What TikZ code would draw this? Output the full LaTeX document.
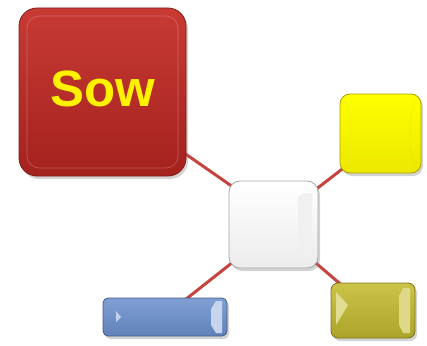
\documentclass[tikz,border=0pt]{standalone}
\usepackage{fontspec}
\setmainfont{Liberation Sans}
\usetikzlibrary{shadows,calc}
\pgfdeclarelayer{back}
\pgfsetlayers{back,main}
\definecolor{linkred}{RGB}{196,68,64}
\definecolor{sowtop}{RGB}{200,58,52}
\definecolor{sowbot}{RGB}{164,34,30}
\definecolor{yelbot}{RGB}{236,232,0}
\definecolor{wbot}{RGB}{236,236,236}
\definecolor{bltop}{RGB}{128,160,212}
\definecolor{blbot}{RGB}{96,130,186}
\definecolor{oltop}{RGB}{204,196,72}
\definecolor{olbot}{RGB}{172,164,40}
\tikzset{
  tile/.style={rectangle, rounded corners=#1, line width=0.8pt, inner sep=0pt,
    drop shadow={shadow xshift=2pt, shadow yshift=-3pt, opacity=0.35}},
  link/.style={draw=linkred, line width=3pt},
  facet/.style={line width=0.6pt, opacity=0.35}
}
\begin{document}
\begin{tikzpicture}[x=1pt,y=-1pt]
\useasboundingbox (0,0) rectangle (427,345);
% tiles
\node[tile=18pt, draw=sowbot!80!black, top color=sowtop, bottom color=sowbot,
      minimum width=167pt, minimum height=168pt] (sow) at (102.5,92) {};
\draw[facet, draw=white!70!sowtop, rounded corners=12pt] (27,16) rectangle (178,168);
\node[text=yellow, font=\bfseries\fontsize{51}{51}\selectfont] (sowlabel) at (103,89) {Sow};

\node[tile=10pt, draw=yelbot!70!black, top color=yellow, bottom color=yelbot,
      minimum width=81pt, minimum height=79pt] (yel) at (380.5,133.5) {};
\draw[facet, draw=white!40!yellow!80!olive] (346,100) -- (351,118) -- (351,150) -- (346,167);
\draw[facet, draw=yellow!80!olive] (415,100) -- (410,118) -- (410,150) -- (415,167);

\node[tile=11pt, draw=gray!70, top color=white, bottom color=wbot,
      minimum width=89pt, minimum height=87pt] (white) at (273.5,224.5) {};
\fill[gray!12] (298,197) -- (304,193) -- (312,193) -- (312,256) -- (304,256) -- (298,250) -- cycle;

\node[tile=5pt, draw=blbot!70!black, top color=bltop, bottom color=blbot,
      minimum width=124pt, minimum height=38pt] (blue) at (165,317) {};
\fill[white!50!bltop] (116,311) -- (121,317) -- (116,322) -- cycle;
\fill[white!55!bltop] (216,301) -- (222,301) -- (222,333) -- (216,333) -- (211,325) -- (211,309) -- cycle;

\node[tile=7pt, draw=olbot!70!black, top color=oltop, bottom color=olbot,
      minimum width=84pt, minimum height=55pt] (olive) at (373,310.5) {};
\fill[white!40!oltop] (336,292) -- (348,305) -- (336,325) -- cycle;
\fill[white!35!oltop] (403,288) -- (410,288) -- (410,333) -- (403,333) -- (399,325) -- (399,296) -- cycle;

% connectors, behind the tiles
\begin{pgfonlayer}{back}
\draw[link] ([xshift=-6pt,yshift=26pt]sow.south east) -- ([xshift=11pt,yshift=-11pt]white.north west);
\draw[link] ([xshift=6pt,yshift=7pt]yel.south west) -- ([xshift=-8pt,yshift=-13pt]white.north east);
\draw[link] ([xshift=9pt,yshift=10pt]white.south west) -- ([xshift=-42pt,yshift=-2pt]blue.north east);
\draw[link] ([xshift=-8pt,yshift=10pt]white.south east) -- ([xshift=14pt,yshift=-5pt]olive.north west);
\end{pgfonlayer}
\end{tikzpicture}
\end{document}
